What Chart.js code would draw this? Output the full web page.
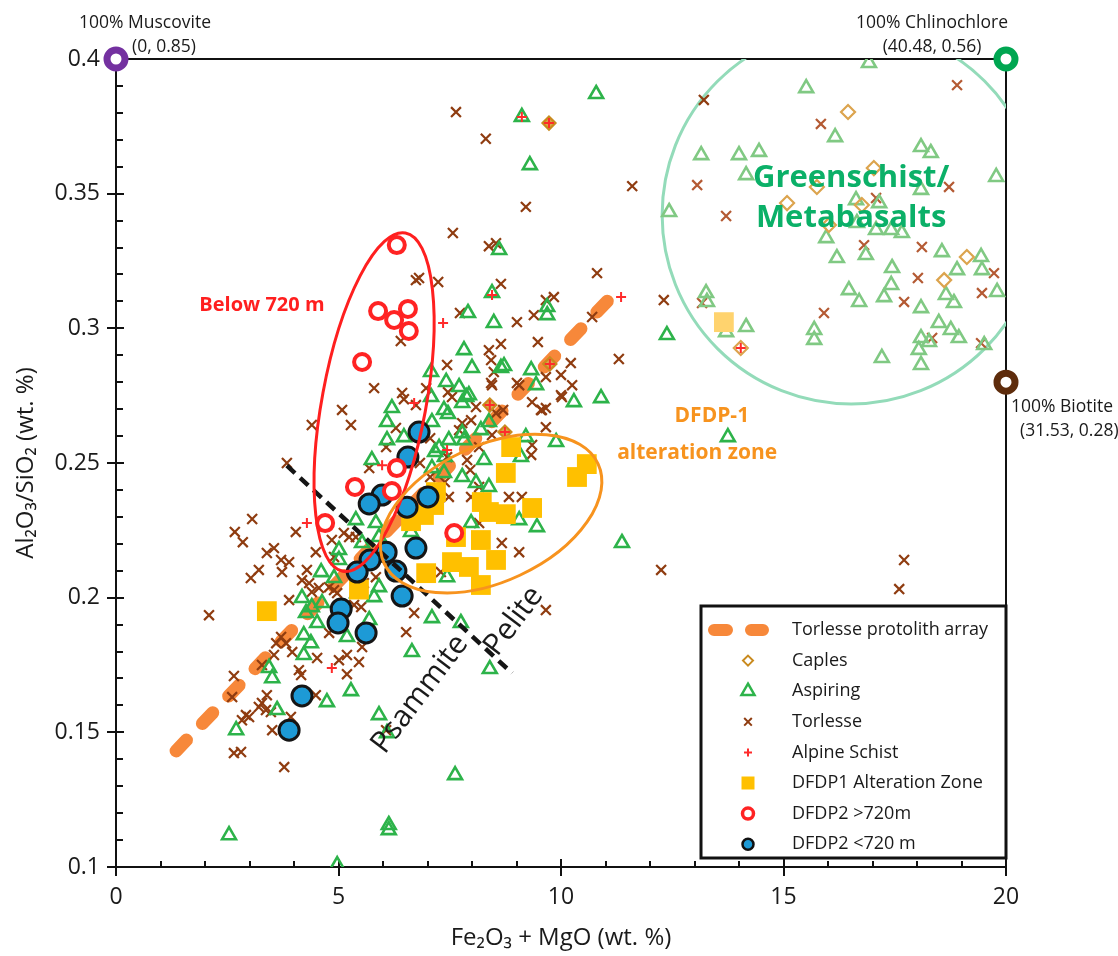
<!DOCTYPE html>
<html><head><meta charset="utf-8">
<script src="https://cdn.jsdelivr.net/npm/chart.js@4"></script>
<style>html,body{margin:0;padding:0;background:#fff}#wrap{width:1118px;height:956px}</style>
</head><body><div id="wrap"><canvas id="c" width="1118" height="956"></canvas></div>
<script>
const FONT = "'Open Sans', 'Noto Sans', sans-serif";

// ---------- data ----------
const xRange = [0, 20];
const yRange = [0.1, 0.4];
const xMajorStep = 5;
const yMajorStep = 0.05;

const protolithArrayX = [1.35, 11.28];
const protolithArrayY = [0.1431, 0.3142];
const psammitePeliteX = [3.84, 8.9];
const psammitePeliteY = [0.249, 0.172];

const muscovite = [[0, 0.4]];
const chlinochlore = [[20, 0.4]];
const biotite = [[20, 0.28]];

const caples = [[9.73,0.3762],[9.75,0.2868],[8.4,0.2715],[8.74,0.2615]];
const caplesGreenschist = [[16.45,0.3803],[17.03,0.3595],[15.75,0.3525],[15.08,0.3465],[16.76,0.3458],[16.02,0.3384],[19.12,0.3265],[18.61,0.3179],[14.04,0.2927]];

const aspiring = [[9.12,0.3785],[10.79,0.387],[9.3,0.3606],[8.61,0.3291],[8.45,0.3131],[7.91,0.3057],[8.49,0.302],[9.69,0.3079],[9.69,0.3049],[7.82,0.2919],[7.08,0.2838],[7.42,0.2801],[8.0,0.2853],[8.65,0.2853],[8.72,0.286],[9.33,0.2845],[9.44,0.2789],[7.71,0.2782],[7.93,0.2752],[7.78,0.2723],[7.08,0.2745],[6.2,0.2704],[7.37,0.2697],[10.29,0.2726],[10.9,0.2741],[12.38,0.2975],[13.75,0.2596],[9.89,0.2578],[7.87,0.2745],[6.09,0.2652],[7.46,0.2682],[7.1,0.2652],[6.47,0.2596],[6.09,0.2585],[7.78,0.2611],[7.48,0.2585],[7.82,0.2585],[7.26,0.2556],[7.17,0.2541],[7.39,0.2522],[8.2,0.2622],[8.38,0.2652],[5.75,0.2511],[8.27,0.2511],[7.78,0.2448],[7.37,0.2463],[7.1,0.2481],[8.09,0.2426],[8.38,0.2411],[9.1,0.2522],[9.06,0.2288],[7.98,0.2277],[5.39,0.2288],[5.84,0.2277],[5.91,0.2225],[5.53,0.2203],[5.01,0.2177],[6.63,0.2244],[9.21,0.2596],[9.46,0.2262],[11.37,0.2203],[7.1,0.1924],[7.75,0.1906],[7.44,0.2076],[6.7,0.2325],[5.01,0.214],[5.84,0.2151],[4.61,0.2095],[4.9,0.2073],[5.42,0.2017],[5.8,0.2002],[4.18,0.1999],[4.4,0.1965],[4.27,0.1943],[4.63,0.198],[4.52,0.1906],[5.69,0.1917],[5.91,0.2039],[4.22,0.1861],[5.19,0.1854],[4.38,0.1831],[4.22,0.1787],[6.65,0.1798],[3.44,0.1739],[3.51,0.1701],[5.28,0.1653],[4.74,0.1612],[3.62,0.1583],[2.7,0.1508],[5.91,0.1564],[6.09,0.1497],[2.54,0.1118],[6.13,0.1156],[6.13,0.1137],[4.97,0.1007],[7.62,0.1341],[8.4,0.1735]];
const aspiringGreenschist = [[16.92,0.3985],[15.51,0.3892],[16.16,0.371],[13.15,0.3643],[14.0,0.3643],[14.45,0.3655],[14.16,0.3569],[18.09,0.3673],[18.31,0.3651],[19.78,0.3562],[12.43,0.3432],[18.09,0.3514],[16.63,0.3476],[17.15,0.3465],[16.65,0.3391],[17.08,0.3365],[17.42,0.3365],[17.66,0.3354],[15.96,0.3335],[16.2,0.3261],[16.85,0.3272],[18.56,0.3283],[19.44,0.3265],[17.44,0.3224],[18.9,0.3216],[19.46,0.3216],[17.42,0.3161],[17.26,0.3116],[16.47,0.3142],[16.7,0.3098],[18.65,0.3124],[18.83,0.3094],[19.8,0.3135],[18.09,0.3075],[13.26,0.3131],[13.28,0.3098],[14.16,0.3005],[13.71,0.2986],[15.69,0.2994],[15.69,0.2957],[18.49,0.302],[18.76,0.2994],[18.94,0.2964],[18.09,0.2964],[18.27,0.2949],[18.04,0.292],[18.09,0.2864],[17.21,0.289],[19.51,0.2938]];

const torlesse = [[7.64,0.3803],[8.31,0.3704],[9.21,0.3451],[7.57,0.3354],[8.38,0.3305],[8.54,0.3316],[11.6,0.3528],[13.21,0.3848],[6.74,0.3179],[6.81,0.3187],[7.24,0.3172],[8.65,0.3165],[10.81,0.3205],[7.73,0.3057],[9.01,0.3023],[9.39,0.3049],[9.66,0.3105],[9.84,0.3116],[10.7,0.3042],[6.4,0.2953],[8.38,0.2919],[8.65,0.2942],[9.48,0.2949],[11.3,0.2886],[5.8,0.2778],[5.08,0.2697],[6.47,0.2737],[7.44,0.2864],[8.43,0.2882],[8.43,0.2797],[8.49,0.2838],[9.01,0.2797],[9.66,0.2819],[10.0,0.2827],[10.22,0.2871],[10.25,0.2789],[10.02,0.2745],[9.35,0.2726],[9.55,0.2697],[9.66,0.2704],[7.55,0.2745],[7.46,0.2763],[8.09,0.2708],[6.74,0.2715],[4.4,0.2641],[5.28,0.2641],[3.84,0.25],[5.69,0.2481],[6.29,0.263],[6.07,0.2559],[3.06,0.2292],[2.67,0.2244],[2.85,0.2206],[4.04,0.2244],[4.49,0.2169],[3.39,0.2166],[3.55,0.2184],[3.71,0.214],[3.89,0.2132],[3.03,0.2073],[3.21,0.2103],[3.73,0.2095],[4.29,0.2103],[4.18,0.2065],[4.34,0.2054],[4.4,0.2021],[4.56,0.2036],[4.79,0.2039],[4.9,0.2028],[4.97,0.2017],[3.89,0.1991],[2.09,0.1935],[5.24,0.2225],[4.85,0.2214],[5.12,0.224],[5.39,0.2225],[4.9,0.2151],[5.51,0.1965],[5.84,0.2076],[5.57,0.2054],[6.52,0.1872],[6.7,0.1943],[3.71,0.1854],[3.6,0.1831],[3.82,0.1831],[3.96,0.1798],[3.55,0.1787],[4.11,0.1731],[4.16,0.1713],[4.52,0.1776],[4.79,0.1869],[5.01,0.1768],[5.19,0.1787],[5.19,0.1716],[5.46,0.1761],[5.53,0.1817],[5.35,0.1973],[2.65,0.1709],[2.61,0.1631],[3.28,0.175],[3.39,0.1638],[3.28,0.1609],[3.21,0.1594],[3.37,0.1583],[3.48,0.1575],[2.92,0.1564],[2.83,0.1545],[2.99,0.1557],[3.51,0.1508],[3.93,0.1557],[4.49,0.1638],[2.65,0.1423],[2.81,0.1427],[3.78,0.1371],[6.07,0.1508],[6.43,0.276],[8.45,0.2789],[9.06,0.2789],[9.57,0.2697],[8.54,0.2685],[9.66,0.2633],[7.71,0.2622],[7.98,0.2659],[8.16,0.2559],[7.44,0.2522],[7.89,0.2511],[8.16,0.2411],[7.48,0.2374],[7.98,0.2374],[8.83,0.2374],[9.12,0.2374],[8.16,0.2277],[8.67,0.2203],[9.06,0.2169],[7.3,0.2095],[12.25,0.2103],[9.66,0.1954],[10.0,0.2752],[9.35,0.2567],[9.33,0.253],[6.97,0.2778],[17.6,0.2032],[17.71,0.214],[12.31,0.3105],[7.78,0.2648],[7.06,0.2592],[8.45,0.2604],[7.39,0.2429],[7.96,0.2474],[7.06,0.2448],[6.83,0.25],[8.7,0.2697]];
const torlesseGreenschist = [[15.84,0.3759],[18.9,0.3903],[13.06,0.3532],[13.71,0.3417],[18.72,0.3525],[17.08,0.3484],[16.81,0.3309],[18.11,0.3302],[18.02,0.3187],[17.71,0.3098],[19.73,0.3205],[19.46,0.3131],[15.91,0.3057],[13.17,0.3094],[18.34,0.2964],[19.44,0.2945]];

const alpineSchist = [[9.12,0.3785],[9.73,0.3762],[11.35,0.3116],[7.35,0.302],[8.45,0.3124],[9.75,0.2868],[8.4,0.2715],[8.74,0.2615],[6.7,0.2723],[5.98,0.2492],[4.29,0.2277],[7.44,0.2548],[4.85,0.1739],[14.04,0.2927]];

const dfdp1Alteration = [[3.39,0.195],[5.46,0.203],[7.19,0.2392],[7.15,0.2344],[6.63,0.2284],[6.92,0.2307],[6.97,0.2091],[8.88,0.2559],[8.76,0.2463],[10.36,0.2448],[10.58,0.2496],[8.22,0.2355],[8.38,0.2318],[8.76,0.231],[9.35,0.2333],[7.64,0.2225],[8.2,0.2214],[8.54,0.214],[7.55,0.2132],[7.93,0.2114],[8.2,0.2047]];
const dfdp1Greenschist = [[13.66,0.3023]];

const dfdp2Deep = [[6.31,0.3309],[5.89,0.3064],[6.56,0.3072],[6.25,0.3031],[6.58,0.299],[5.53,0.2875],[6.31,0.2481],[5.37,0.2411],[6.2,0.2396],[4.7,0.2277],[7.6,0.224]];
const dfdp2Shallow = [[6.81,0.2615],[6.56,0.2522],[7.01,0.2374],[5.98,0.2381],[5.69,0.2348],[6.54,0.2336],[6.74,0.2184],[6.07,0.2169],[5.71,0.214],[5.42,0.2095],[6.29,0.2099],[6.43,0.2006],[5.06,0.1958],[4.99,0.1906],[5.62,0.1869],[4.18,0.1635],[3.89,0.1508]];

const legendLabels = ['Torlesse protolith array','Caples','Aspiring','Torlesse','Alpine Schist','DFDP1 Alteration Zone','DFDP2 >720m','DFDP2 <720 m'];

// ---------- helpers ----------
const pts = a => a.map(([x, y]) => ({x, y}));
const linePts = (xs, ys) => xs.map((x, i) => ({x, y: ys[i]}));

function marker(label, data, o) {
  return Object.assign({
    label, data: pts(data), showLine: false,
    pointStyle: o.style, pointRadius: o.r, pointHoverRadius: o.r,
    pointBorderWidth: o.lw || 0, pointHoverBorderWidth: o.lw || 0,
    pointBorderColor: o.stroke || 'rgba(0,0,0,0)',
    pointBackgroundColor: o.fill || 'rgba(0,0,0,0)',
    borderColor: o.stroke || o.fill, backgroundColor: o.fill || 'rgba(0,0,0,0)'
  }, o.extra || {});
}

const C = {
  caples: '#c98a1e', caplesLight: '#dca44e',
  aspiring: '#2db34a', aspiringLight: '#80c983',
  torlesse: '#8f3c10', torlesseLight: '#b45a33',
  alpine: '#ff2b2b', dfdp1: '#ffc000', dfdp1Light: '#ffd36e',
  deep: '#ff2323', shallow: '#1d9ad6', protolith: '#f7883a'
};

const datasets = [
  {label: 'Psammite / Pelite', data: linePts(psammitePeliteX, psammitePeliteY), showLine: true,
   borderColor: '#151515', borderWidth: 4.5, borderDash: [11, 7], pointRadius: 0, order: 0},
  marker('Muscovite', muscovite, {style: 'circle', r: 9, lw: 7, stroke: '#7431a0', fill: '#fff', extra: {clip: false, order: 1}}),
  marker('Chlinochlore', chlinochlore, {style: 'circle', r: 9, lw: 7, stroke: '#00a651', fill: '#fff', extra: {clip: false, order: 1}}),
  marker('Biotite', biotite, {style: 'circle', r: 9, lw: 7, stroke: '#5e2c0c', fill: '#fff', extra: {clip: false, order: 1}}),
  marker('DFDP2 >720m', dfdp2Deep, {style: 'circle', r: 8, lw: 4, stroke: C.deep, fill: '#fff', extra: {order: 2}}),
  marker('DFDP2 <720 m', dfdp2Shallow, {style: 'circle', r: 10, lw: 3, stroke: '#151515', fill: C.shallow, extra: {order: 3}}),
  marker('DFDP1 Alteration Zone', dfdp1Alteration, {style: 'rect', r: 14, fill: C.dfdp1, extra: {order: 4}}),
  marker('DFDP1 (greenschist field)', dfdp1Greenschist, {style: 'rect', r: 14, fill: C.dfdp1Light, extra: {order: 4}}),
  marker('Alpine Schist', alpineSchist, {style: 'cross', r: 5, lw: 2, stroke: C.alpine, extra: {order: 5}}),
  marker('Caples', caples, {style: 'rectRot', r: 6.5, lw: 2.2, stroke: C.caples, fill: '#d9a84a', extra: {order: 6}}),
  marker('Caples (greenschist field)', caplesGreenschist, {style: 'rectRot', r: 7, lw: 2.2, stroke: C.caplesLight, fill: 'rgba(0,0,0,0)', extra: {order: 6}}),
  marker('Aspiring', aspiring, {style: 'triangle', r: 8, lw: 2.6, stroke: C.aspiring, fill: 'rgba(0,0,0,0)', extra: {order: 7}}),
  marker('Aspiring (greenschist field)', aspiringGreenschist, {style: 'triangle', r: 8, lw: 2.6, stroke: C.aspiringLight, fill: 'rgba(0,0,0,0)', extra: {order: 7}}),
  marker('Torlesse', torlesse, {style: 'crossRot', r: 7, lw: 2.2, stroke: C.torlesse, extra: {order: 8}}),
  marker('Torlesse (greenschist field)', torlesseGreenschist, {style: 'crossRot', r: 7, lw: 2.2, stroke: C.torlesseLight, extra: {order: 8}}),
  {label: 'Torlesse protolith array', data: linePts(protolithArrayX, protolithArrayY), showLine: true,
   borderColor: C.protolith, borderWidth: 13, borderDash: [15, 23], borderCapStyle: 'round', pointRadius: 0, order: 9}
];

// ---------- annotation / frame / legend plugin ----------
const annotations = {
  belowEllipse: {x: 5.8, y: 0.2726, rx: 52, ry: 172, rot: 10.5, color: '#ff1f1f', lw: 3},
  dfdp1Ellipse: {x: 8.43, y: 0.2312, rx: 118, ry: 68, rot: -25, color: '#f7931e', lw: 3},
  greenschistCircle: {x: 16.52, y: 0.3421, r: 189, color: '#93dbb9', lw: 3},
  texts: [
    {t: 'Below 720 m', x: 3.28, y: 0.3087, font: 'bold 20px ' + FONT, color: '#ff1f1f'},
    {t: 'DFDP-1', x: 13.39, y: 0.2675, font: 'bold 21px ' + FONT, color: '#f7931e'},
    {t: 'alteration zone', x: 13.06, y: 0.2538, font: 'bold 21px ' + FONT, color: '#f7931e'},
    {t: 'Greenschist/', x: 16.52, y: 0.3556, font: 'bold 31px ' + FONT, color: '#0bb068'},
    {t: 'Metabasalts', x: 16.52, y: 0.3408, font: 'bold 31px ' + FONT, color: '#0bb068'},
    {t: 'Psammite', x: 6.83, y: 0.1642, font: '30px ' + FONT, color: '#1a1a1a', rot: -53},
    {t: 'Pelite', x: 8.94, y: 0.1913, font: '30px ' + FONT, color: '#1a1a1a', rot: -53}
  ],
  endLabels: [
    {t: '100% Muscovite', x: 0, y: 0.4, dx: 29, dy: -36, align: 'center'},
    {t: '(0, 0.85)', x: 0, y: 0.4, dx: 16, dy: -12, align: 'left'},
    {t: '100% Chlinochlore', x: 20, y: 0.4, dx: -74, dy: -36, align: 'center'},
    {t: '(40.48, 0.56)', x: 20, y: 0.4, dx: -74, dy: -12, align: 'center'},
    {t: '100% Biotite', x: 20, y: 0.28, dx: 5, dy: 25, align: 'left'},
    {t: '(31.53, 0.28)', x: 20, y: 0.28, dx: 14, dy: 49, align: 'left'}
  ]
};

function sym(ctx, style, x, y, r, stroke, fill, lw) {
  ctx.save();
  ctx.lineWidth = lw || 1; ctx.strokeStyle = stroke || 'transparent'; ctx.fillStyle = fill || 'transparent';
  ctx.beginPath();
  if (style === 'circle') { ctx.arc(x, y, r, 0, Math.PI * 2); }
  else if (style === 'rectRot') { ctx.moveTo(x, y - r); ctx.lineTo(x + r, y); ctx.lineTo(x, y + r); ctx.lineTo(x - r, y); ctx.closePath(); }
  else if (style === 'triangle') { const h = r; ctx.moveTo(x, y - h); ctx.lineTo(x + h * 0.866, y + h * 0.5); ctx.lineTo(x - h * 0.866, y + h * 0.5); ctx.closePath(); }
  else if (style === 'crossRot') { ctx.moveTo(x - r, y - r); ctx.lineTo(x + r, y + r); ctx.moveTo(x + r, y - r); ctx.lineTo(x - r, y + r); }
  else if (style === 'cross') { ctx.moveTo(x - r, y); ctx.lineTo(x + r, y); ctx.moveTo(x, y - r); ctx.lineTo(x, y + r); }
  else if (style === 'rect') { ctx.rect(x - r, y - r, 2 * r, 2 * r); }
  if (fill) ctx.fill();
  if (stroke && lw) ctx.stroke();
  ctx.restore();
}

const annotPlugin = {
  id: 'annot',
  beforeDatasetsDraw(chart) {
    const {ctx, chartArea: a, scales: {x, y}} = chart;
    ctx.save();
    ctx.strokeStyle = '#111'; ctx.lineWidth = 2;
    ctx.beginPath(); ctx.moveTo(a.left, a.top); ctx.lineTo(a.right, a.top); ctx.lineTo(a.right, a.bottom); ctx.stroke();
    for (let v = xRange[0]; v <= xRange[1] + 1e-9; v += 1) {
      const px = Math.round(x.getPixelForValue(v));
      const major = Math.abs(v / xMajorStep - Math.round(v / xMajorStep)) < 1e-6;
      ctx.beginPath(); ctx.moveTo(px, a.bottom - (major ? 8 : 6)); ctx.lineTo(px, a.bottom + (major ? 9 : 0)); ctx.stroke();
    }
    for (let i = 0; i <= 30; i++) {
      const v = yRange[0] + i * 0.01;
      const py = Math.round(y.getPixelForValue(v));
      const major = i % 5 === 0;
      ctx.beginPath(); ctx.moveTo(a.left - (major ? 9 : 0), py); ctx.lineTo(a.left + (major ? 8 : 7), py); ctx.stroke();
    }
    const g = annotations.greenschistCircle;
    ctx.save();
    ctx.beginPath(); ctx.rect(a.left, a.top, a.right - a.left, a.bottom - a.top); ctx.clip();
    ctx.strokeStyle = g.color; ctx.lineWidth = g.lw;
    ctx.beginPath(); ctx.arc(x.getPixelForValue(g.x), y.getPixelForValue(g.y), g.r, 0, Math.PI * 2); ctx.stroke();
    ctx.restore();
    ctx.restore();
  },
  afterDatasetsDraw(chart) {
    const {ctx, chartArea: a, scales: {x, y}} = chart;
    ctx.save();
    for (const e of [annotations.belowEllipse, annotations.dfdp1Ellipse]) {
      ctx.strokeStyle = e.color; ctx.lineWidth = e.lw;
      ctx.beginPath();
      ctx.ellipse(x.getPixelForValue(e.x), y.getPixelForValue(e.y), e.rx, e.ry, e.rot * Math.PI / 180, 0, Math.PI * 2);
      ctx.stroke();
    }
    ctx.textAlign = 'center'; ctx.textBaseline = 'middle';
    for (const t of annotations.texts) {
      ctx.save();
      ctx.translate(x.getPixelForValue(t.x), y.getPixelForValue(t.y));
      if (t.rot) ctx.rotate(t.rot * Math.PI / 180);
      ctx.font = t.font; ctx.fillStyle = t.color;
      ctx.fillText(t.t, 0, 0);
      ctx.restore();
    }
    ctx.font = '17.5px ' + FONT; ctx.fillStyle = '#1a1a1a';
    for (const t of annotations.endLabels) {
      ctx.textAlign = t.align;
      ctx.fillText(t.t, x.getPixelForValue(t.x) + t.dx, y.getPixelForValue(t.y) + t.dy);
    }
    const L = {left: a.right - 305, top: a.bottom - 261, w: 305, h: 252};
    ctx.fillStyle = '#fff'; ctx.fillRect(L.left, L.top, L.w, L.h);
    ctx.strokeStyle = '#111'; ctx.lineWidth = 3; ctx.strokeRect(L.left, L.top, L.w, L.h);
    const sx = L.left + 47, tx = L.left + 91;
    const syms = [
      null,
      ['rectRot', 5, C.caples, '#fff', 2],
      ['triangle', 7.5, C.aspiring, '#fff', 2.5],
      ['crossRot', 3.8, C.torlesse, null, 2],
      ['cross', 4, C.alpine, null, 2],
      ['rect', 6.5, null, C.dfdp1, 0],
      ['circle', 5.5, C.deep, '#fff', 3.5],
      ['circle', 5.5, '#111', C.shallow, 2.5]
    ];
    ctx.font = '18px ' + FONT; ctx.textAlign = 'left'; ctx.textBaseline = 'middle';
    legendLabels.forEach((lab, i) => {
      const yy = L.top + 24 + i * 30.6;
      if (i === 0) {
        ctx.save(); ctx.strokeStyle = C.protolith; ctx.lineWidth = 12; ctx.lineCap = 'round';
        ctx.beginPath(); ctx.moveTo(L.left + 13, yy); ctx.lineTo(L.left + 26, yy);
        ctx.moveTo(L.left + 50, yy); ctx.lineTo(L.left + 62, yy); ctx.stroke(); ctx.restore();
      } else {
        const s = syms[i]; sym(ctx, s[0], sx, yy, s[1], s[2], s[3], s[4]);
      }
      ctx.fillStyle = '#1a1a1a'; ctx.fillText(lab, tx, yy);
    });
    ctx.restore();
  }
};

Chart.defaults.font.family = FONT;
new Chart(document.getElementById('c'), {
  type: 'scatter',
  data: {datasets},
  options: {
    responsive: false, animation: false, devicePixelRatio: 1, events: [],
    layout: {padding: {left: 0, top: 59, right: 112, bottom: 0}},
    plugins: {legend: {display: false}, tooltip: {enabled: false}},
    scales: {
      x: {
        type: 'linear', min: xRange[0], max: xRange[1],
        ticks: {stepSize: xMajorStep, color: '#1a1a1a', font: {size: 23}, padding: 17},
        grid: {display: false, drawTicks: false},
        border: {display: true, color: '#111', width: 2},
        title: {display: true, text: 'Fe\u2082O\u2083 + MgO (wt. %)', color: '#1a1a1a', font: {size: 24}, padding: {top: 0, bottom: 3}},
        afterFit(s) { s.height = 89; }
      },
      y: {
        type: 'linear', min: yRange[0], max: yRange[1],
        ticks: {stepSize: yMajorStep, color: '#1a1a1a', font: {size: 23}, padding: 16,
                callback: v => (Math.round(v * 100) / 100).toString()},
        grid: {display: false, drawTicks: false},
        border: {display: true, color: '#111', width: 2},
        title: {display: true, text: 'Al\u2082O\u2083/SiO\u2082 (wt. %)', color: '#1a1a1a', font: {size: 24}, padding: {top: 12, bottom: 0}},
        afterFit(s) { s.width = 116; }
      }
    }
  },
  plugins: [annotPlugin]
});
</script></body></html>
